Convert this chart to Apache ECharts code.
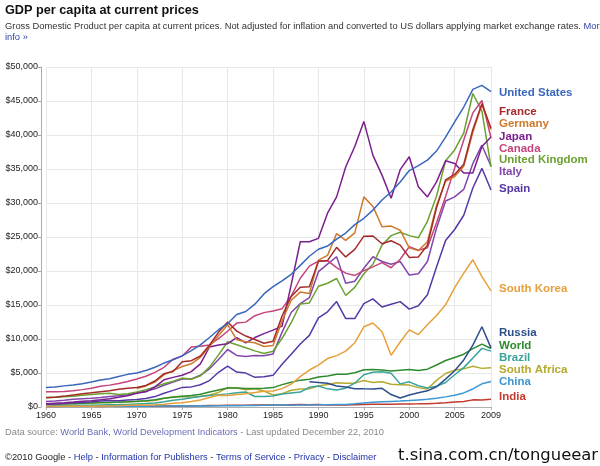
<!DOCTYPE html>
<html>
<head>
<meta charset="utf-8">
<script src="https://cdn.jsdelivr.net/npm/echarts@6/dist/echarts.min.js"></script>
<style>html,body{margin:0;padding:0;background:#fff}#c{width:600px;height:466px}</style>
</head>
<body>
<div id="c"></div>
<script>
// ---------- DATA ----------
var years = [1960,1961,1962,1963,1964,1965,1966,1967,1968,1969,1970,1971,1972,1973,1974,1975,1976,1977,1978,1979,1980,1981,1982,1983,1984,1985,1986,1987,1988,1989,1990,1991,1992,1993,1994,1995,1996,1997,1998,1999,2000,2001,2002,2003,2004,2005,2006,2007,2008,2009];
var xTickLabels = [1960,1965,1970,1975,1980,1985,1990,1995,2000,2005,2009];
var countries = ['United States','France','Germany','Japan','Canada','United Kingdom','Italy','Spain','South Korea','Russia','World','Brazil','South Africa','China','India'];

var unitedStates = [2881,2934,3107,3232,3423,3665,3981,4153,4492,4800,4998,5360,5838,6462,6948,7517,8304,9144,10225,11365,12276,13614,14038,15128,16634,17690,18540,19517,20827,22169,23198,23669,24680,25577,26826,27750,28957,30450,31624,33102,34769,35491,36306,37641,39677,41922,44114,46700,47300,46381];
var france = [1344,1449,1600,1777,1955,2089,2249,2405,2604,2761,2858,3172,3829,4906,5226,6657,6812,7504,9088,11020,12500,11156,10436,9931,9382,9683,13415,16249,17625,17691,21442,21531,23472,22067,23173,25119,25150,24000,24450,23800,22000,22050,23800,29300,33400,34200,35700,40800,44600,41000];
var germany = [null,null,null,null,null,null,null,null,null,null,2700,3100,3650,4750,5350,5950,6350,7300,8900,10500,12100,9900,9600,9450,8900,9050,12700,15700,16900,16700,21600,22300,25500,24500,25600,30900,29500,26500,26600,26000,23400,23000,24300,29600,33200,33900,35400,40400,44500,40800];
var japan = [479,564,633,718,835,919,1058,1229,1450,1669,2004,2234,2950,3997,4354,4659,5197,6335,8821,9105,9308,10212,9428,10214,10787,11300,11900,18000,24300,24300,24800,28500,30900,35300,38300,42000,37000,34100,30700,34900,36800,32400,30900,33100,36200,35800,34400,34400,38300,39700];
var canada = [2259,2240,2269,2374,2555,2770,3047,3217,3463,3764,4122,4520,5089,5838,7033,7511,8809,8919,9124,10044,11135,12337,12482,13425,13877,14116,14462,16309,18938,20716,21448,21515,20494,19689,19351,20061,20613,21227,20477,21738,23560,23041,23417,27079,30970,35133,39250,43248,45070,39599];
var unitedKingdom = [1380,1452,1513,1592,1729,1849,1953,2005,1853,1957,2224,2533,2955,3428,3794,4250,4090,4574,5863,7670,9591,9147,8716,8253,7856,8203,10103,12392,15164,15311,17756,18200,18900,16400,17600,19600,21000,23800,25200,25700,25200,24900,27300,31000,36200,37800,40300,46100,43500,35300];
var italy = [804,887,990,1126,1223,1304,1402,1533,1651,1813,2109,2301,2671,3205,3658,4103,4108,4666,5613,6991,8456,7590,7432,7571,7522,7810,11015,13890,15210,16080,19900,21000,22100,18200,18500,20400,22100,21400,21000,21400,19400,19600,21400,26300,30300,30900,32000,35800,38500,35400];
var spain = [396,449,515,612,679,774,883,966,912,1022,1112,1250,1529,2026,2447,2885,2957,3276,3887,5101,6000,5134,4988,4365,4446,4653,6279,7751,9260,10537,13100,14000,15500,13000,13000,15200,15900,14700,15100,15500,14400,14900,16500,20600,24500,26100,28200,32200,35100,31900];
var southKorea = [155,92,104,144,123,108,132,160,196,244,279,301,323,405,559,608,820,1041,1383,1734,1674,1846,1938,2117,2307,2368,2702,3368,4465,5438,6153,7122,7556,8220,9459,11800,12350,11070,7600,9554,11347,10655,12094,13451,15029,17551,19676,21653,19162,17078];
var russia = [null,null,null,null,null,null,null,null,null,null,null,null,null,null,null,null,null,null,null,null,null,null,null,null,null,null,null,null,null,3700,3600,3500,3100,2950,2700,2670,2650,2750,1830,1330,1775,2100,2375,2975,4100,5325,6920,9100,11800,8700];
var world = [446,463,490,522,566,605,648,680,720,787,860,937,1060,1270,1440,1590,1700,1890,2200,2500,2780,2800,2730,2720,2760,2850,3290,3640,3950,4070,4400,4570,4800,4810,5050,5470,5500,5430,5300,5420,5500,5380,5560,6170,6840,7290,7760,8580,9240,8600];
var brazil = [200,208,236,275,260,257,310,335,355,380,440,500,580,770,990,1150,1360,1540,1690,1820,1930,2100,2200,1540,1550,1620,1900,2060,2200,2900,3090,2670,2500,2770,3500,4750,5100,5180,4950,3400,3700,3130,2810,3040,3610,4740,5790,7190,8620,8220];
var southAfrica = [430,440,455,495,540,575,610,660,695,770,810,880,940,1270,1510,1540,1450,1570,1780,2140,2860,2810,2530,2680,2350,1760,1960,2470,2630,2690,3080,3300,3550,3490,3510,3900,3600,3720,3360,3290,3220,2850,2650,3920,4930,5420,5610,5990,5680,5790];
var china = [92,76,71,74,85,98,104,97,91,100,112,118,132,157,160,178,165,185,155,183,193,197,203,225,250,294,281,251,283,310,314,330,363,377,473,604,703,774,821,865,949,1042,1135,1274,1490,1731,2069,2651,3414,3744];
var india = [84,88,92,103,117,119,89,96,99,107,112,118,122,143,163,158,161,186,204,224,267,271,274,291,276,296,310,340,354,346,375,308,324,301,346,374,400,415,413,441,453,462,480,559,640,736,819,1048,1042,1134];

var seriesValues = [unitedStates,france,germany,japan,canada,unitedKingdom,italy,spain,southKorea,russia,world,brazil,southAfrica,china,india];

// ---------- STYLE ----------
var colors = ['#3a67bd','#a52a2a','#cc7a2c','#7b1f8e','#c4457c','#6ba131','#8246ac','#5638a6','#e6a03a','#2d4d89','#2e8b2e','#3aa39a','#b5aa2c','#3c97d3','#c23a2c'];
var labelDy = [1,-16,-6,0,11,-7,6,-1,-2,-15,-3,7,2,0,-2];

var FONT = '"Liberation Sans", Arial, Helvetica, sans-serif';
var chart = echarts.init(document.getElementById('c'), null, {renderer: 'canvas'});

var series = countries.map(function (name, i) {
  return {
    name: name,
    type: 'line',
    data: years.map(function (y, j) { return [y, seriesValues[i][j]]; }),
    showSymbol: false,
    symbol: 'none',
    connectNulls: false,
    lineStyle: {width: 1.5, color: colors[i]},
    itemStyle: {color: colors[i]},
    emphasis: {disabled: true},
    endLabel: {
      show: true,
      formatter: name,
      color: colors[i],
      fontFamily: FONT,
      fontWeight: 'bold',
      fontSize: 11.5,
      distance: 8,
      offset: [0, labelDy[i]]
    },
    z: 10 + (countries.length - i)
  };
});

var linkColor = '#3344aa';
chart.setOption({
  animation: false,
  backgroundColor: '#fff',
  textStyle: {fontFamily: FONT},
  title: [
    {text: 'GDP per capita at current prices', left: 5, top: 4, padding: 0,
     textStyle: {fontFamily: FONT, fontSize: 12.7, fontWeight: 'bold', color: '#111'}},
    {text: 'Gross Domestic Product per capita at current prices. Not adjusted for inflation and converted to US dollars applying market exchange rates. {a|More}\n{a|info »}',
     left: 5, top: 21, padding: 0,
     textStyle: {fontFamily: FONT, fontSize: 9.35, fontWeight: 'normal', color: '#333', lineHeight: 11,
       rich: {a: {color: linkColor, fontSize: 9.35, fontFamily: FONT, lineHeight: 11}}}},
    {text: 'Data source: {a|World Bank, World Development Indicators} - Last updated December 22, 2010',
     left: 5, top: 428, padding: 0,
     textStyle: {fontFamily: FONT, fontSize: 9.3, fontWeight: 'normal', color: '#888',
       rich: {a: {color: '#6a6ab8', fontSize: 9.3, fontFamily: FONT}}}},
    {text: '©2010 Google - {a|Help} - {a|Information for Publishers} - {a|Terms of Service} - {a|Privacy} - {a|Disclaimer}',
     left: 5, top: 453, padding: 0,
     textStyle: {fontFamily: FONT, fontSize: 9.35, fontWeight: 'normal', color: '#222',
       rich: {a: {color: '#2233aa', fontSize: 9.35, fontFamily: FONT}}}},
    {text: 't.sina.com.cn/tongueear', left: 398, top: 448, padding: 0,
     textStyle: {fontFamily: '"DejaVu Sans", sans-serif', fontSize: 16.4, fontWeight: 'normal', color: '#111'}}
  ],
  grid: {left: 46, right: 109, top: 67, bottom: 59, outerBoundsMode: 'none', containLabel: false},
  xAxis: {
    type: 'value', min: 1960, max: 2009, interval: 5,
    axisLine: {show: true, lineStyle: {color: '#b0b0b0', width: 1}},
    axisTick: {show: true, length: 3, lineStyle: {color: '#b0b0b0'}},
    axisLabel: {fontFamily: FONT, fontSize: 9, color: '#222', margin: 4,
      formatter: function (v) { return xTickLabels.indexOf(v) >= 0 ? String(v) : ''; }},
    splitLine: {show: true, lineStyle: {color: '#e8e8e8', width: 1}}
  },
  yAxis: {
    type: 'value', min: 0, max: 50000, interval: 5000, offset: 5,
    axisLine: {show: true, lineStyle: {color: '#aaaaaa', width: 1}},
    axisTick: {show: true, length: 3, lineStyle: {color: '#aaaaaa'}},
    axisLabel: {fontFamily: FONT, fontSize: 9, color: '#222', margin: 3,
      formatter: function (v) { return '$' + v.toLocaleString('en-US'); }},
    splitLine: {show: true, lineStyle: {color: '#e8e8e8', width: 1}}
  },
  series: series
});
</script>
</body>
</html>
